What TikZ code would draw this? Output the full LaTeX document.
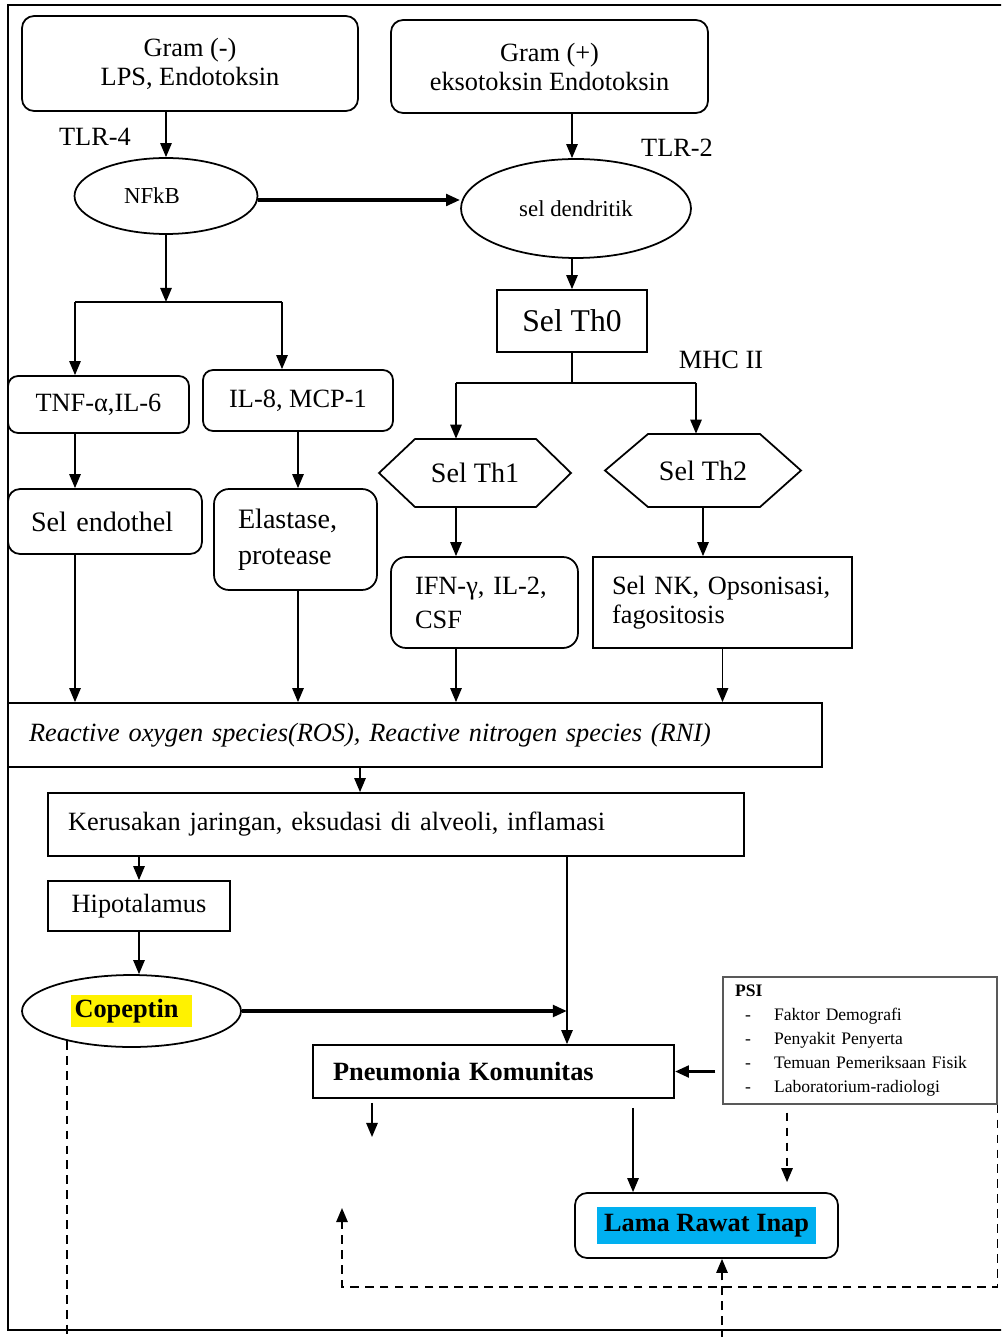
\documentclass[tikz,border=0pt]{standalone}
\usepackage{fontspec}
\setmainfont{Liberation Serif}
\usetikzlibrary{arrows.meta,shapes.geometric}
\definecolor{cyanbg}{HTML}{00B0F0}
\newcommand{\psientry}[1]{\makebox[0.78cm][l]{\hspace*{0.2cm}-}#1}

\begin{document}
\begin{tikzpicture}[x=0.02cm, y=-0.02cm, >={Triangle[length=8pt,width=6.5pt]}]

    \tikzstyle{box} = [draw, line width=1pt, inner sep=0pt, font=\fontsize{15}{16.5}\selectfont]
    \tikzstyle{rbox} = [box, rounded corners=0.24cm]
    \tikzstyle{oval} = [draw, ellipse, line width=1pt, inner sep=0pt, font=\fontsize{13}{15}\selectfont]
    \tikzstyle{lbl} = [inner sep=0pt, font=\fontsize{15}{16.5}\selectfont]
    \tikzstyle{link} = [arrows=->, line width=0.9pt]
    \tikzstyle{heavy} = [arrows=->, line width=2pt]
    \tikzstyle{dlink} = [line width=0.9pt, dash pattern=on 5pt off 3.5pt]

    \useasboundingbox (0,0) rectangle (1001,1337);
    \clip (0,0) rectangle (1001,1337);

    % Frame
    \draw[line width=1.2pt] (1010,5) -- (8,5) -- (8,1330) -- (1010,1330);

    % Gram (-) and Gram (+)
    \node[rbox, minimum width=6.72cm, minimum height=1.9cm, align=center] (gramneg) at (190,63.5)
        {Gram (-)\\LPS, Endotoksin};
    \node[rbox, minimum width=6.34cm, minimum height=1.86cm, align=center] (grampos) at (549.5,66.5)
        {Gram (+)\\eksotoksin Endotoksin};
    \node[lbl] (tlr4) at (95,137) {TLR-4};
    \node[lbl] (tlr2) at (677,148) {TLR-2};

    % NFkB and sel dendritik
    \node[oval, minimum width=3.66cm, minimum height=1.52cm, text width=1.68cm, align=left] (nfkb) at (166,196) {NFkB};
    \node[oval, minimum width=4.6cm, minimum height=1.98cm] (dendritik) at (576,208.5) {sel dendritik};
    \node[box, minimum width=3cm, minimum height=1.24cm, font=\fontsize{18}{20}\selectfont] (th0) at (572,321) {Sel Th0};
    \node[lbl] (mhc) at (721,360) {MHC II};

    % cytokines
    \node[rbox, rounded corners=0.2cm, minimum width=3.62cm, minimum height=1.14cm] (tnf) at (98.5,404.5) {TNF-α,IL-6};
    \node[rbox, rounded corners=0.2cm, minimum width=3.8cm, minimum height=1.22cm] (il8) at (298,400.5) {IL-8, MCP-1};

    % Th1 and Th2
    \draw[line width=1pt] (379,473) -- (415,439) -- (536,439) -- (571,473) -- (536,507) -- (415,507) -- cycle;
    \draw[line width=1pt] (605,470.5) -- (648,434) -- (760,434) -- (801,470.5) -- (760,507) -- (648,507) -- cycle;
    \node[lbl, minimum width=3.84cm, minimum height=1.36cm, font=\fontsize{16}{18}\selectfont] (th1) at (475,473) {Sel Th1};
    \node[lbl, minimum width=3.92cm, minimum height=1.46cm, font=\fontsize{16}{18}\selectfont] (th2) at (703,470.5) {Sel Th2};

    \node[rbox, minimum width=3.88cm, minimum height=1.3cm, text width=2.96cm, inner xsep=0.46cm, align=left,
        font=\fontsize{16}{18}\selectfont] (endothel) at (105,521.5) {Sel endothel};
    \node[rbox, rounded corners=0.3cm, minimum width=3.26cm, minimum height=2.02cm, text width=2.3cm, inner xsep=0.48cm,
        align=left, font=\fontsize{16}{20.4}\selectfont] (elastase) at (295.5,539.5) {Elastase,\\protease};
    \node[rbox, rounded corners=0.3cm, minimum width=3.74cm, minimum height=1.82cm, text width=2.78cm, inner xsep=0.48cm,
        align=left, font=\fontsize{15}{19.3}\selectfont] (ifn) at (484.5,602.5) {IFN-γ, IL-2,\\CSF};
    \node[box, minimum width=5.18cm, minimum height=1.82cm, text width=4.42cm, inner xsep=0.38cm, align=left]
        (selnk) at (722.5,602.5) {Sel NK, Opsonisasi,\\fagositosis};

    % ROS, damage
    \node[box, minimum width=16.28cm, minimum height=1.28cm, text width=15.44cm, inner xsep=0.42cm, align=left,
        font=\fontsize{15}{16.5}\selectfont\itshape] (ros) at (415,735)
        {Reactive oxygen species(ROS), Reactive nitrogen species (RNI)};
    \node[box, minimum width=13.92cm, minimum height=1.26cm, text width=13.12cm, inner xsep=0.4cm, align=left]
        (kerusakan) at (396,824.5) {Kerusakan jaringan, eksudasi di alveoli, inflamasi};
    \node[box, minimum width=3.64cm, minimum height=1cm] (hipo) at (139,906) {Hipotalamus};
    \node[oval, minimum width=4.38cm, minimum height=1.44cm, font=\fontsize{15}{16.5}\selectfont\bfseries] (copeptin)
        at (131.5,1011) {\setlength{\fboxsep}{0.08cm}\colorbox{yellow}{Copeptin\hspace{0.2cm}}};

    % outcome
    \node[box, minimum width=7.22cm, minimum height=1.06cm, text width=6.42cm, inner xsep=0.4cm, align=left,
        font=\fontsize{15}{16.5}\selectfont\bfseries] (pneumonia) at (493.5,1071.5) {Pneumonia Komunitas};
    \node[box, draw=black!65, line width=0.8pt, minimum width=5.48cm, minimum height=2.54cm, text width=5cm,
        inner xsep=0.24cm, align=left, font=\fontsize{10}{13.6}\selectfont] (psi) at (860,1040.5)
        {\textbf{PSI}\\ \psientry{Faktor Demografi}\\ \psientry{Penyakit Penyerta}\\
         \psientry{Temuan Pemeriksaan Fisik}\\ \psientry{Laboratorium-radiologi}};
    \node[rbox, minimum width=5.26cm, minimum height=1.3cm, font=\fontsize{15}{16.5}\selectfont\bfseries] (lama)
        at (706.5,1225.5) {\setlength{\fboxsep}{0.14cm}\colorbox{cyanbg}{Lama Rawat Inap}};

    % top links
    \draw[link] (nfkb.north |- gramneg.south) -- (nfkb.north);
    \draw[link] (th0.north |- grampos.south) -- (th0.north |- dendritik.north);
    \coordinate (nfkbout) at ([yshift=-0.08cm]nfkb.east);
    \draw[heavy] (nfkbout) -- (nfkbout -| dendritik.west);
    \draw[link] (th0.north |- dendritik.south) -- (th0.north);

    % NFkB split
    \coordinate (splitL) at (75,302);
    \coordinate (splitR) at (282,302);
    \draw[link] (nfkb.south) -- (nfkb.south |- splitL);
    \draw[line width=0.9pt] (splitL) -- (splitR);
    \draw[link] (splitL) -- (splitL |- tnf.north);
    \draw[link] (splitR) -- (splitR |- il8.north);

    % Th0 split
    \coordinate (splitA) at (456,383);
    \coordinate (splitB) at (696,383);
    \draw[line width=0.9pt] (th0.south) -- (th0.south |- splitA);
    \draw[line width=0.9pt] (splitA) -- (splitB);
    \draw[link] (splitA) -- (splitA |- th1.north);
    \draw[link] (splitB) -- (splitB |- th2.north);

    \draw[link] (splitL |- tnf.south) -- (splitL |- endothel.north);
    \draw[link] (il8.south) -- (il8.south |- elastase.north);
    \draw[link] (splitA |- th1.south) -- (splitA |- ifn.north);
    \draw[link] (th2.south) -- (th2.south |- selnk.north);

    % into ROS
    \draw[link] (splitL |- endothel.south) -- (splitL |- ros.north);
    \draw[link] (il8.south |- elastase.south) -- (il8.south |- ros.north);
    \draw[link] (splitA |- ifn.south) -- (splitA |- ros.north);
    \draw[link] (selnk.south) -- (selnk.south |- ros.north);

    \coordinate (rosout) at ([xshift=-1.1cm]ros.south);
    \draw[link] (rosout) -- (rosout |- kerusakan.north);
    \draw[link] (hipo.north |- kerusakan.south) -- (hipo.north);
    \draw[link] (hipo.south) -- (hipo.south |- copeptin.north);

    % to Pneumonia
    \coordinate (meet) at (567,1011);
    \draw[heavy] (copeptin.east) -- (meet);
    \draw[link] (meet |- kerusakan.south) -- (meet |- pneumonia.north);
    \draw[heavy, shorten <=0.14cm] (psi.west |- pneumonia.east) -- (pneumonia.east);

    \coordinate (loose) at (372,1137);
    \draw[link, shorten <=0.08cm] (loose |- pneumonia.south) -- (loose);
    \coordinate (lamain) at ([xshift=-1.47cm]lama.north);
    \draw[link, shorten <=0.18cm] (lamain |- pneumonia.south) -- (lamain);

    % dashed
    \coordinate (psiout) at ([xshift=-1.46cm]psi.south);
    \draw[dlink, arrows=->, shorten <=0.16cm, shorten >=0.2cm] (psiout) -- (psiout |- lama.north);
    \coordinate (loopbase) at (342,1287);
    \coordinate (loopend) at (342,1208);
    \draw[dlink, arrows=->] (psi.south east) |- (loopbase) -- (loopend);
    \coordinate (offbottom) at (722,1340);
    \draw[dlink, arrows=->] (offbottom) -- (offbottom |- lama.south);
    \coordinate (copdown) at (68,1340);
    \draw[dlink] (copeptin.205) -- (copeptin.205 |- copdown);

\end{tikzpicture}
\end{document}
